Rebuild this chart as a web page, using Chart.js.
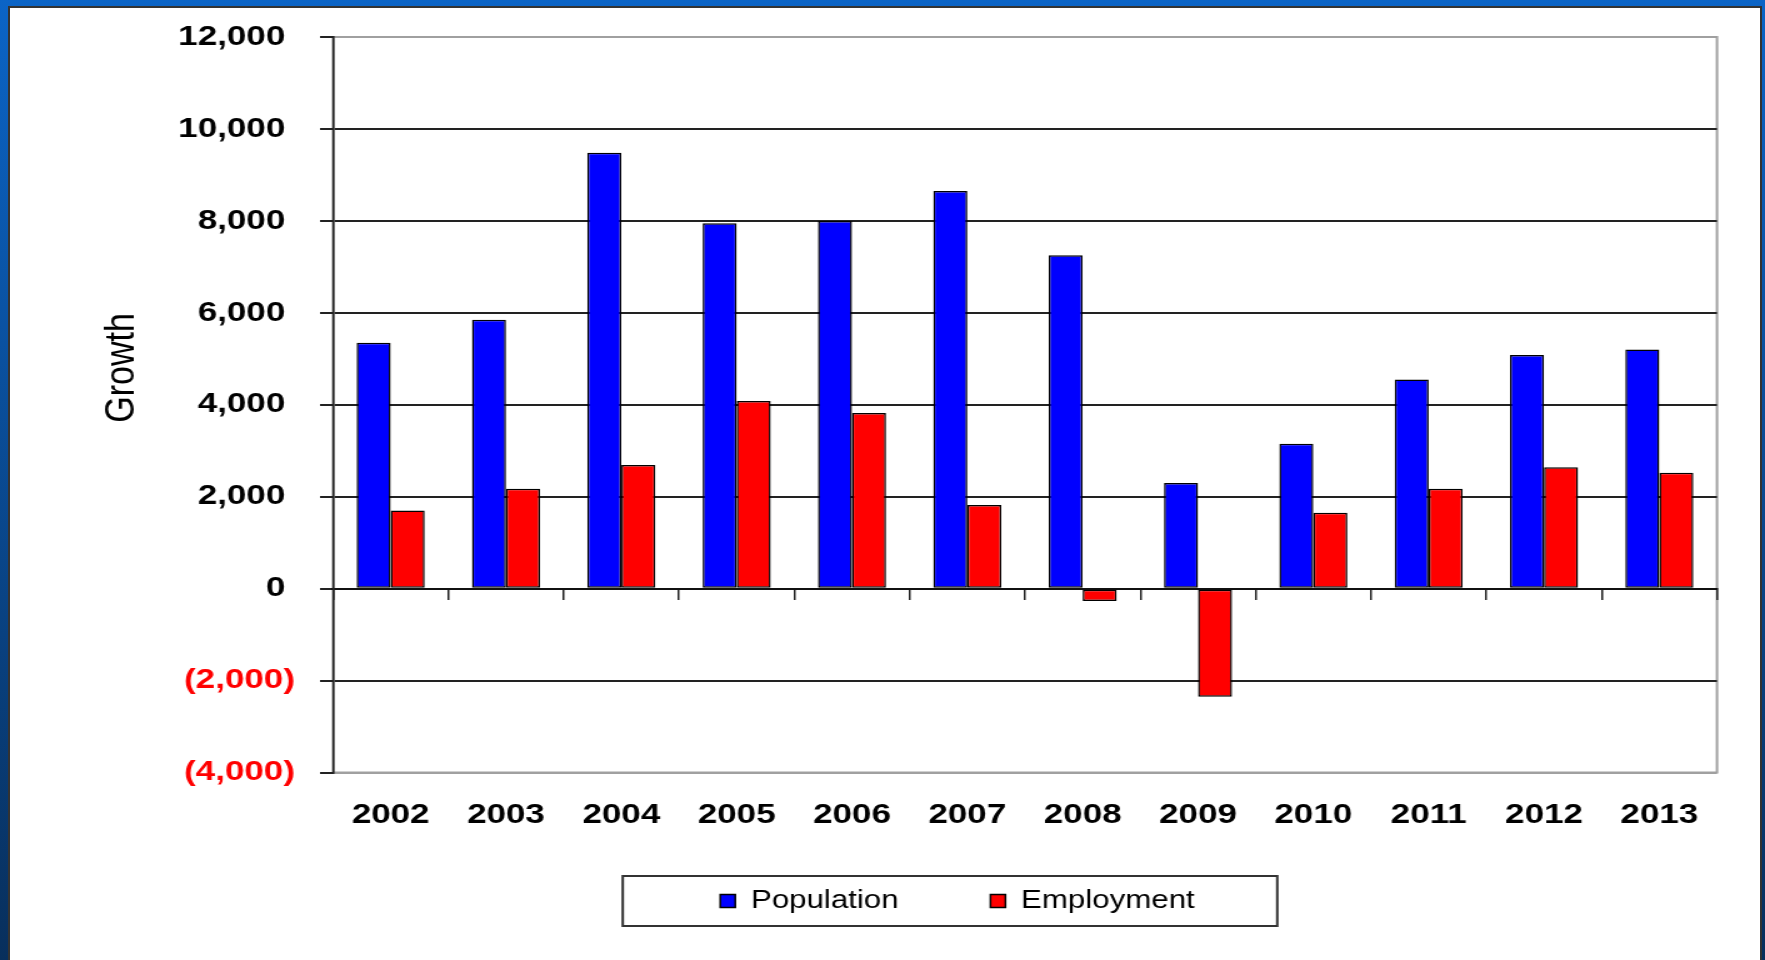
<!DOCTYPE html>
<html>
<head>
<meta charset="utf-8">
<script src="https://cdn.jsdelivr.net/npm/chart.js@4.4.1/dist/chart.umd.min.js"></script>
<style>
  html, body { margin: 0; padding: 0; }
  body {
    width: 1765px; height: 960px; overflow: hidden; position: relative;
    background: linear-gradient(#0b64c6, #082f5c);
  }
  #frame {
    position: absolute; left: 8px; top: 6px; width: 1750px; height: 970px;
    background: #fff; border: 2px solid #333;
  }
  /* the original picture is stretched sideways, so draw narrow and stretch */
  #wrap {
    position: absolute; left: 0; top: 0; width: 1412px; height: 960px;
    transform: scaleX(1.25); transform-origin: 0 0;
  }
</style>
</head>
<body>
<div id="frame"></div>
<div id="wrap"><canvas id="chart"></canvas></div>
<script>
const years = ['2002', '2003', '2004', '2005', '2006', '2007', '2008', '2009', '2010', '2011', '2012', '2013'];
const population = [5350, 5850, 9480, 7950, 8000, 8650, 7250, 2300, 3150, 4550, 5080, 5200];
const employment = [1700, 2170, 2690, 4080, 3820, 1820, -270, -2350, 1650, 2170, 2640, 2520];

const yMin = -4000;
const yMax = 12000;
const yStep = 2000;
const yTitle = 'Growth';

const FONT = "'Liberation Sans', Arial, sans-serif";

function fmtTick(v) {
    const s = Math.abs(v).toLocaleString('en-US');
    return v < 0 ? '(' + s + ')' : s + ' ';
}

// grey frame round the plot area
const plotFrame = {
    id: 'plotFrame',
    beforeDraw(chart) {
        const {ctx, chartArea: a} = chart;
        ctx.save();
        ctx.strokeStyle = '#a0a0a0';
        ctx.lineWidth = 2;
        ctx.strokeRect(a.left, a.top, a.right - a.left, a.bottom - a.top);
        ctx.restore();
    }
};

// excel puts the axis title a bit above the middle
const axisTitle = {
    id: 'axisTitle',
    afterDraw(chart) {
        const {ctx, chartArea: a} = chart;
        ctx.save();
        ctx.translate(98, a.top + (a.bottom - a.top) * 0.45);
        ctx.rotate(-Math.PI / 2);
        ctx.font = '34px ' + FONT;
        ctx.fillStyle = '#000';
        ctx.textAlign = 'center';
        ctx.textBaseline = 'middle';
        ctx.fillText(yTitle, 0, 0);
        ctx.restore();
    }
};

// legend sits a little higher than the layout puts it
const legendShift = {
    id: 'legendShift',
    afterLayout(chart) {
        chart.legend.top -= 19.5;
        chart.legend.bottom -= 19.5;
    }
};

// box round the legend like the excel one
const legendBox = {
    id: 'legendBox',
    afterDraw(chart) {
        const boxes = chart.legend.legendHitBoxes;
        if (!boxes || !boxes.length) return;
        const left = Math.min(...boxes.map(b => b.left)) - 78;
        const right = Math.max(...boxes.map(b => b.left + b.width)) + 66;
        const mid = boxes[0].top + boxes[0].height / 2;
        const ctx = chart.ctx;
        ctx.save();
        ctx.strokeStyle = '#333';
        ctx.lineWidth = 2;
        ctx.strokeRect(left, mid - 25, right - left, 50);
        ctx.restore();
    }
};

new Chart(document.getElementById('chart'), {
    type: 'bar',
    data: {
        labels: years,
        datasets: [{
            label: 'Population',
            data: population,
            backgroundColor: '#0000ff',
            borderColor: '#000',
            borderWidth: 1.5,
            borderSkipped: false
        }, {
            label: 'Employment',
            data: employment,
            backgroundColor: '#ff0000',
            borderColor: '#000',
            borderWidth: 1.5,
            borderSkipped: false
        }]
    },
    options: {
        responsive: true,
        maintainAspectRatio: false,
        animation: false,
        datasets: {
            bar: { categoryPercentage: 0.59, barPercentage: 1 }
        },
        layout: {
            padding: { left: 120, right: 0, top: 37, bottom: 17 }
        },
        scales: {
            x: {
                position: 'bottom',
                offset: true,
                grid: { display: false, drawTicks: false },
                border: { display: false },
                ticks: {
                    padding: 26,
                    color: '#000',
                    font: { family: FONT, size: 28, weight: 'bold' }
                },
                afterFit(scale) { scale.height = 62; }
            },
            x2: {
                type: 'category',
                position: { y: 0 },
                offset: true,
                grid: {
                    offset: true,
                    drawOnChartArea: false,
                    drawTicks: true,
                    tickLength: 10,
                    color: '#222',
                    lineWidth: 1.5
                },
                border: { color: '#111', width: 2 },
                ticks: { display: false }
            },
            y: {
                min: yMin,
                max: yMax,
                grid: {
                    color: ctx => (ctx.tick && (ctx.tick.value === yMax || ctx.tick.value === yMin)) ? '#a0a0a0' : '#222',
                    tickColor: '#222',
                    lineWidth: 2,
                    tickLength: 10.4
                },
                border: { color: '#222', width: 1.6 },
                ticks: {
                    stepSize: yStep,
                    padding: 20,
                    color: ctx => ctx.tick.value < 0 ? '#ff0000' : '#000',
                    font: { family: FONT, size: 28, weight: 'bold' },
                    callback: v => fmtTick(v)
                },
                afterFit(scale) { scale.width = 146.4; }
            },
            yR: {
                position: 'right',
                grid: { display: false },
                border: { display: false },
                ticks: { display: false },
                afterFit(scale) { scale.width = 38.4; }
            }
        },
        plugins: {
            legend: {
                position: 'bottom',
                labels: {
                    boxWidth: 12,
                    boxHeight: 13,
                    padding: 73.5,
                    color: '#000',
                    font: { family: FONT, size: 25 }
                }
            },
            tooltip: { enabled: false }
        }
    },
    plugins: [plotFrame, axisTitle, legendShift, legendBox]
});
</script>
</body>
</html>
